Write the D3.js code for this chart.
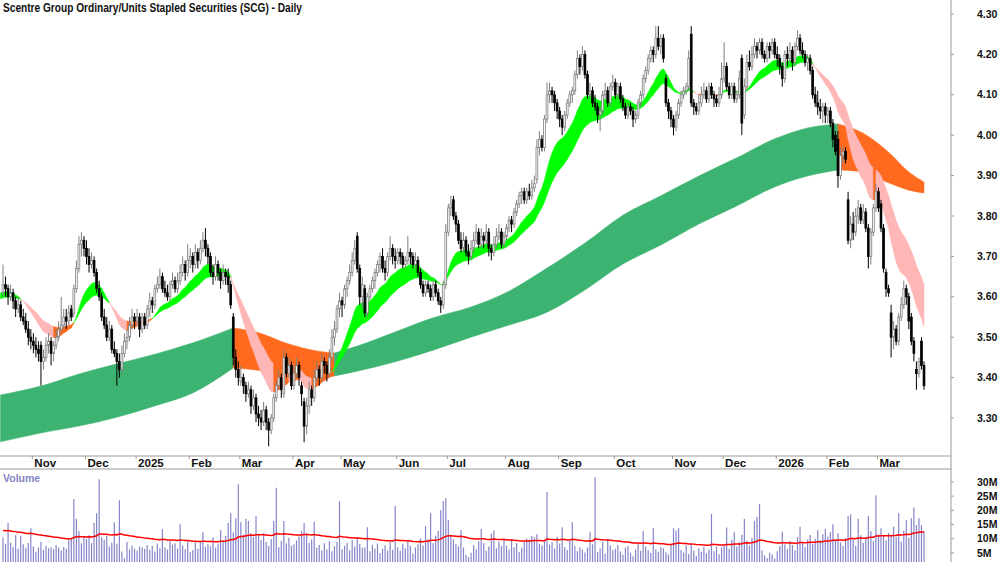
<!DOCTYPE html>
<html>
<head>
<meta charset="utf-8">
<script src="https://cdn.jsdelivr.net/npm/d3@7"></script>
<style>
    body { margin: 0; background: #fff; }
    svg text { font-family: Arial, "Liberation Sans", sans-serif; font-weight: bold; }
</style>
</head>
<body>
<div id="chart"></div>
<script>
// daily prices, 16 Oct 2024 .. 26 Mar 2026 (one row per month)
const opens = [
    3.61,3.63,3.62,3.60,3.61,3.59,3.57,3.58,3.55,3.54,3.52,3.50,
    3.49,3.48,3.47,3.48,3.44,3.45,3.48,3.49,3.46,3.48,3.50,3.52,3.53,3.55,3.54,3.57,3.56,3.62,3.67,3.73,3.74,
    3.72,3.70,3.68,3.69,3.66,3.62,3.60,3.55,3.53,3.50,3.52,3.47,3.46,3.44,3.42,3.46,3.49,3.50,3.53,3.55,
    3.54,3.55,3.52,3.55,3.53,3.57,3.59,3.58,3.62,3.63,3.65,3.62,3.61,3.60,3.63,3.64,3.62,3.64,3.66,3.68,3.66,
    3.69,3.70,3.68,3.71,3.69,3.72,3.74,3.72,3.70,3.66,3.65,3.68,3.66,3.64,3.66,3.65,3.63,3.55,3.45,3.42,
    3.39,3.40,3.38,3.36,3.37,3.33,3.35,3.31,3.30,3.29,3.32,3.29,3.27,3.30,3.35,3.38,3.40,3.36,3.45,3.41,3.43,
    3.38,3.41,3.43,3.38,3.34,3.28,3.33,3.37,3.35,3.40,3.42,3.40,3.44,3.43,3.41,3.45,3.50,3.52,3.57,
    3.59,3.58,3.62,3.64,3.66,3.69,3.75,3.67,3.60,3.62,3.56,3.60,3.62,3.64,3.66,3.68,3.70,3.67,3.66,3.70,3.72,3.70,
    3.69,3.71,3.70,3.68,3.69,3.71,3.70,3.68,3.69,3.66,3.63,3.61,3.63,3.62,3.60,3.63,3.61,3.59,3.58,3.63,
    3.76,3.82,3.84,3.80,3.78,3.74,3.72,3.74,3.71,3.70,3.72,3.74,3.76,3.73,3.75,3.74,3.76,3.72,3.71,3.73,3.75,3.76,3.73,
    3.75,3.77,3.79,3.78,3.81,3.83,3.85,3.86,3.84,3.86,3.85,3.87,3.89,3.97,3.99,3.97,4.04,4.10,4.11,4.10,4.08,
    4.06,4.04,4.02,4.05,4.08,4.10,4.11,4.15,4.19,4.17,4.20,4.15,4.10,4.11,4.08,4.07,4.05,4.06,4.10,4.11,4.08,4.12,
    4.13,4.10,4.12,4.09,4.07,4.05,4.07,4.06,4.04,4.05,4.08,4.10,4.14,4.16,4.19,4.21,4.20,4.24,4.22,4.24,4.14,4.08,4.06,
    4.04,4.02,4.05,4.08,4.10,4.11,4.12,4.25,4.08,4.07,4.06,4.08,4.10,4.11,4.09,4.12,4.10,4.09,4.08,4.10,
    4.14,4.17,4.12,4.10,4.12,4.09,4.10,4.19,4.05,4.12,4.18,4.17,4.20,4.22,4.21,4.23,4.20,4.19,4.22,4.21,4.23,
    4.20,4.19,4.17,4.14,4.20,4.19,4.21,4.18,4.22,4.24,4.21,4.20,4.18,4.19,4.16,4.10,4.08,4.07,4.06,4.07,
    4.05,4.06,4.03,4.00,3.99,3.90,3.95,3.96,3.84,3.74,3.78,3.76,3.80,3.82,3.79,3.81,3.77,3.70,3.76,3.82,
    3.86,3.83,3.77,3.66,3.62,3.56,3.50,3.52,3.49,3.55,3.58,3.62,3.60,3.55,3.49,3.42,3.41,3.49,3.43
];
const highs = [
    3.68,3.65,3.63,3.63,3.62,3.60,3.60,3.59,3.57,3.56,3.54,3.52,
    3.51,3.50,3.49,3.49,3.47,3.50,3.51,3.50,3.49,3.52,3.54,3.60,3.57,3.57,3.58,3.58,3.63,3.69,3.75,3.76,3.75,
    3.74,3.72,3.71,3.70,3.67,3.64,3.61,3.57,3.55,3.54,3.53,3.49,3.47,3.46,3.48,3.51,3.52,3.55,3.57,3.56,
    3.57,3.56,3.56,3.56,3.58,3.61,3.60,3.63,3.65,3.67,3.66,3.64,3.63,3.64,3.66,3.65,3.66,3.68,3.70,3.69,3.73,
    3.72,3.71,3.73,3.72,3.74,3.76,3.77,3.73,3.71,3.68,3.70,3.69,3.67,3.68,3.67,3.67,3.64,3.56,3.47,3.44,
    3.43,3.41,3.39,3.39,3.38,3.37,3.36,3.33,3.32,3.34,3.33,3.30,3.31,3.36,3.39,3.42,3.41,3.47,3.46,3.45,3.44,
    3.43,3.45,3.44,3.39,3.35,3.35,3.39,3.38,3.42,3.44,3.43,3.46,3.45,3.44,3.47,3.52,3.54,3.58,3.61,
    3.60,3.63,3.65,3.68,3.71,3.74,3.76,3.68,3.65,3.63,3.61,3.63,3.65,3.67,3.69,3.71,3.72,3.69,3.71,3.75,3.73,3.72,
    3.72,3.72,3.71,3.70,3.75,3.72,3.71,3.71,3.70,3.67,3.64,3.64,3.64,3.63,3.64,3.64,3.62,3.60,3.64,3.78,
    3.83,3.85,3.85,3.81,3.79,3.76,3.76,3.75,3.73,3.74,3.76,3.78,3.77,3.77,3.76,3.78,3.77,3.73,3.75,3.77,3.78,3.77,3.76,
    3.78,3.80,3.80,3.82,3.84,3.86,3.87,3.87,3.87,3.88,3.89,3.90,3.99,4.01,4.00,4.05,4.13,4.13,4.12,4.11,4.09,
    4.07,4.05,4.06,4.09,4.11,4.12,4.16,4.21,4.20,4.22,4.21,4.16,4.13,4.12,4.10,4.08,4.07,4.11,4.13,4.12,4.13,4.15,
    4.14,4.13,4.13,4.10,4.08,4.08,4.08,4.07,4.06,4.09,4.11,4.15,4.17,4.20,4.22,4.22,4.27,4.27,4.25,4.25,4.15,4.09,4.07,
    4.05,4.06,4.09,4.11,4.12,4.13,4.21,4.27,4.09,4.08,4.10,4.12,4.13,4.12,4.13,4.13,4.11,4.10,4.12,4.18,
    4.23,4.18,4.13,4.13,4.13,4.11,4.16,4.20,4.14,4.20,4.21,4.22,4.24,4.23,4.24,4.24,4.21,4.23,4.23,4.24,4.24,
    4.22,4.20,4.18,4.21,4.22,4.23,4.22,4.23,4.26,4.25,4.23,4.21,4.20,4.20,4.17,4.12,4.11,4.09,4.08,4.08,
    4.07,4.07,4.04,4.01,4.01,3.97,3.97,3.97,3.86,3.80,3.81,3.82,3.84,3.83,3.83,3.82,3.78,3.77,3.83,3.88,
    3.87,3.84,3.78,3.67,3.63,3.58,3.54,3.53,3.56,3.60,3.64,3.63,3.61,3.56,3.50,3.44,3.45,3.50,3.44
];
const lows = [
    3.60,3.60,3.58,3.59,3.57,3.55,3.56,3.54,3.53,3.51,3.48,3.47,
    3.46,3.45,3.44,3.38,3.42,3.44,3.46,3.43,3.44,3.47,3.49,3.51,3.52,3.52,3.53,3.54,3.55,3.61,3.66,3.70,3.70,
    3.68,3.66,3.67,3.65,3.61,3.59,3.54,3.52,3.49,3.49,3.46,3.45,3.38,3.40,3.41,3.45,3.47,3.49,3.52,3.52,
    3.53,3.50,3.51,3.52,3.52,3.55,3.56,3.57,3.61,3.62,3.61,3.60,3.59,3.59,3.62,3.61,3.61,3.63,3.65,3.64,3.65,
    3.67,3.66,3.67,3.67,3.68,3.71,3.70,3.68,3.65,3.63,3.64,3.64,3.62,3.63,3.63,3.61,3.57,3.43,3.40,3.38,
    3.38,3.36,3.34,3.35,3.31,3.32,3.29,3.28,3.27,3.28,3.27,3.23,3.26,3.29,3.34,3.37,3.35,3.35,3.40,3.40,3.37,
    3.37,3.40,3.38,3.33,3.24,3.26,3.31,3.33,3.34,3.39,3.38,3.39,3.41,3.39,3.40,3.44,3.48,3.51,3.55,
    3.55,3.57,3.60,3.63,3.65,3.68,3.66,3.58,3.57,3.55,3.55,3.59,3.61,3.62,3.65,3.66,3.66,3.64,3.65,3.69,3.68,3.67,
    3.68,3.68,3.67,3.67,3.68,3.68,3.67,3.67,3.65,3.62,3.60,3.60,3.61,3.59,3.59,3.60,3.58,3.56,3.57,3.62,
    3.75,3.80,3.79,3.76,3.73,3.71,3.71,3.70,3.68,3.69,3.71,3.73,3.72,3.72,3.72,3.73,3.70,3.69,3.70,3.72,3.74,3.72,3.72,
    3.74,3.76,3.76,3.77,3.80,3.82,3.83,3.83,3.83,3.84,3.84,3.86,3.88,3.95,3.96,3.96,4.03,4.08,4.08,4.06,4.04,
    4.02,4.00,4.01,4.04,4.07,4.08,4.10,4.14,4.15,4.16,4.14,4.09,4.09,4.07,4.06,4.03,4.01,4.05,4.09,4.07,4.07,4.11,
    4.09,4.09,4.08,4.06,4.04,4.04,4.05,4.02,4.03,4.04,4.07,4.09,4.13,4.15,4.18,4.18,4.19,4.21,4.20,4.18,4.07,4.04,4.02,
    4.00,4.01,4.04,4.07,4.09,4.10,4.11,4.07,4.05,4.05,4.05,4.07,4.09,4.08,4.08,4.09,4.07,4.07,4.07,4.09,
    4.13,4.11,4.09,4.09,4.08,4.08,4.09,4.00,4.04,4.11,4.16,4.16,4.19,4.19,4.20,4.19,4.18,4.18,4.19,4.20,4.19,
    4.17,4.15,4.12,4.13,4.17,4.18,4.16,4.17,4.21,4.20,4.19,4.17,4.16,4.15,4.09,4.07,4.05,4.04,4.03,4.03,
    4.03,4.02,3.97,3.95,3.87,3.89,3.93,3.93,3.73,3.72,3.74,3.75,3.78,3.78,3.78,3.76,3.67,3.68,3.75,3.81,
    3.81,3.76,3.66,3.60,3.60,3.45,3.47,3.48,3.48,3.54,3.57,3.58,3.52,3.48,3.44,3.37,3.40,3.42,3.37
];
const closes = [
    3.63,3.62,3.60,3.61,3.59,3.57,3.58,3.55,3.54,3.52,3.50,3.49,
    3.48,3.47,3.46,3.44,3.45,3.48,3.49,3.46,3.48,3.50,3.52,3.53,3.55,3.54,3.56,3.55,3.62,3.67,3.73,3.74,3.72,
    3.70,3.68,3.69,3.66,3.62,3.60,3.55,3.53,3.50,3.52,3.47,3.46,3.44,3.42,3.46,3.49,3.50,3.53,3.55,3.54,
    3.55,3.52,3.55,3.53,3.57,3.59,3.58,3.62,3.63,3.65,3.62,3.61,3.60,3.63,3.64,3.62,3.64,3.66,3.68,3.66,3.69,
    3.70,3.68,3.71,3.69,3.72,3.74,3.72,3.70,3.66,3.65,3.68,3.66,3.64,3.66,3.65,3.63,3.58,3.45,3.42,3.40,
    3.40,3.38,3.36,3.37,3.33,3.35,3.31,3.30,3.29,3.32,3.29,3.27,3.30,3.35,3.38,3.40,3.37,3.45,3.41,3.43,3.38,
    3.41,3.43,3.40,3.36,3.28,3.33,3.37,3.35,3.40,3.42,3.40,3.44,3.43,3.41,3.45,3.50,3.52,3.57,3.59,
    3.58,3.62,3.64,3.66,3.69,3.72,3.67,3.60,3.63,3.56,3.60,3.62,3.64,3.66,3.68,3.70,3.67,3.66,3.70,3.72,3.70,3.69,
    3.71,3.70,3.68,3.69,3.71,3.70,3.68,3.69,3.66,3.63,3.61,3.63,3.62,3.60,3.63,3.61,3.59,3.58,3.63,3.76,
    3.82,3.83,3.80,3.78,3.74,3.72,3.74,3.71,3.70,3.72,3.74,3.76,3.73,3.75,3.74,3.76,3.72,3.71,3.73,3.75,3.76,3.73,3.75,
    3.77,3.79,3.78,3.81,3.83,3.85,3.86,3.84,3.86,3.85,3.87,3.88,3.97,3.99,3.97,4.04,4.10,4.11,4.10,4.08,4.06,
    4.04,4.02,4.05,4.08,4.10,4.11,4.15,4.19,4.17,4.20,4.15,4.10,4.11,4.08,4.07,4.05,4.06,4.10,4.11,4.08,4.12,4.13,
    4.10,4.12,4.09,4.07,4.05,4.07,4.06,4.04,4.05,4.08,4.10,4.14,4.16,4.19,4.21,4.20,4.24,4.22,4.24,4.19,4.08,4.06,4.04,
    4.02,4.05,4.08,4.10,4.11,4.12,4.19,4.08,4.07,4.06,4.08,4.10,4.11,4.09,4.12,4.10,4.09,4.08,4.10,4.14,
    4.17,4.12,4.10,4.12,4.09,4.10,4.14,4.03,4.12,4.18,4.17,4.20,4.22,4.21,4.23,4.20,4.19,4.22,4.21,4.23,4.20,
    4.19,4.17,4.14,4.20,4.19,4.21,4.18,4.22,4.24,4.21,4.20,4.18,4.19,4.16,4.10,4.08,4.07,4.06,4.07,4.05,
    4.06,4.03,3.99,3.96,3.90,3.95,3.96,3.94,3.74,3.78,3.76,3.80,3.82,3.79,3.81,3.77,3.70,3.76,3.82,3.86,
    3.82,3.77,3.67,3.62,3.61,3.50,3.52,3.49,3.55,3.58,3.62,3.60,3.54,3.49,3.46,3.41,3.44,3.43,3.38
];
// volume in millions
const volumes = [
    10.5,8.2,15.5,8.6,7.1,11.2,6.4,11.0,8.0,6.8,8.5,13.7,
    7.2,5.4,6.8,8.9,6.1,7.5,6.6,7.0,6.3,7.8,6.9,5.8,7.1,6.4,9.5,10.2,24.0,17.0,12.7,8.4,10.6,
    9.8,11.2,8.4,15.6,19.0,31.0,10.5,9.6,11.0,7.2,8.6,15.8,8.2,23.6,5.5,3.0,8.8,6.1,7.6,6.5,
    5.8,7.2,6.9,6.4,7.8,6.0,7.4,5.5,8.3,6.7,13.4,7.0,6.2,9.1,7.9,8.4,6.5,15.1,7.7,6.3,9.0,
    5.2,6.0,8.7,6.4,9.0,12.3,7.1,8.0,7.3,10.5,6.8,8.2,13.0,9.4,11.0,15.5,19.0,12.2,17.2,29.2,
    15.8,11.4,17.0,16.3,12.0,10.6,18.0,11.8,9.5,12.0,8.8,7.5,9.9,16.2,28.0,7.0,9.2,16.2,8.4,10.3,7.6,
    8.0,9.4,10.8,12.6,15.5,11.9,8.5,9.7,16.0,6.9,7.8,5.9,8.4,6.2,9.1,5.6,7.4,8.8,23.2,
    6.3,7.5,8.6,5.9,9.4,7.2,10.4,8.1,6.8,7.0,14.0,5.6,7.9,6.5,8.3,4.9,6.4,7.7,5.8,8.8,6.1,21.5,
    7.0,5.7,8.2,6.6,9.3,7.4,4.8,6.9,8.0,10.1,7.6,14.4,9.8,19.0,8.4,11.0,12.8,20.0,23.3,24.3,
    16.5,11.2,9.8,8.1,7.3,13.0,6.9,4.2,3.5,5.0,7.8,6.3,9.1,13.4,8.5,5.7,7.2,11.8,13.0,6.6,8.9,7.4,10.1,
    7.5,6.2,9.9,7.0,8.4,5.3,6.8,8.9,10.1,9.6,11.0,10.4,11.6,8.2,7.6,9.0,26.5,7.9,8.8,6.5,10.7,
    8.3,14.0,7.1,6.0,9.2,15.8,7.4,5.6,7.0,6.2,5.1,6.9,12.4,8.0,31.7,5.2,6.5,8.8,4.6,9.9,7.7,5.9,
    6.4,7.8,5.5,4.3,6.9,7.4,5.0,3.8,6.1,8.5,5.7,12.7,7.2,6.0,4.9,13.7,6.3,5.4,7.0,6.6,5.2,4.4,8.1,
    13.7,12.9,13.7,6.0,5.1,7.7,4.6,8.3,5.8,4.0,6.6,5.4,7.1,4.8,6.2,18.7,5.6,7.3,4.5,6.9,
    7.9,13.9,6.4,9.6,12.4,7.2,8.8,11.4,17.0,9.3,7.6,10.2,16.3,17.7,22.2,5.8,4.1,3.2,5.0,4.4,2.9,
    5.6,7.4,12.4,8.0,6.3,9.2,7.8,5.9,10.6,14.2,8.5,7.1,9.7,11.3,8.2,10.0,13.0,9.4,11.6,13.4,
    10.8,12.3,15.1,9.6,11.9,8.7,7.4,10.2,18.0,18.6,9.8,7.5,17.0,11.2,8.6,10.4,18.0,12.7,9.1,25.3,
    11.5,13.7,10.9,9.4,12.0,11.3,14.2,10.6,19.0,9.0,12.8,16.5,10.3,17.2,21.0,14.8,17.2,14.8,12.6
];
// long-term band at these day numbers
const longBandDays   = [-1, 15, 30, 45, 60, 75, 91, 100, 113, 124, 131, 140, 155, 170, 185, 200, 215, 230, 245, 260, 275, 290, 305, 318, 330, 340, 350, 358, 364];
const longBandTop    = [3.357, 3.379, 3.409, 3.434, 3.458, 3.486, 3.523, 3.513, 3.483, 3.466, 3.461, 3.478, 3.513, 3.548, 3.575, 3.614, 3.671, 3.733, 3.802, 3.850, 3.899, 3.944, 3.991, 4.018, 4.028, 4.005, 3.958, 3.909, 3.884];
const longBandBottom = [3.241, 3.263, 3.280, 3.302, 3.330, 3.362, 3.424, 3.419, 3.404, 3.397, 3.404, 3.416, 3.439, 3.468, 3.500, 3.530, 3.562, 3.617, 3.681, 3.728, 3.780, 3.825, 3.872, 3.899, 3.914, 3.909, 3.882, 3.864, 3.857];

const priceTicks = [3.30, 3.40, 3.50, 3.60, 3.70, 3.80, 3.90, 4.00, 4.10, 4.20, 4.30];
const volumeTicks = [5, 10, 15, 20, 25, 30];
const holidays = ["2024-12-25", "2024-12-26", "2025-01-01", "2025-01-27", "2025-04-18", "2025-04-21",
    "2025-04-25", "2025-06-09", "2025-12-25", "2025-12-26", "2026-01-01", "2026-01-26"];

// short-term band: two averages of the close, and where they stood just before the first day
const shortFast = 16, shortSlow = 30;
const seeds = { shortFast: 3.61, shortSlow: 3.595, volume: 13 };

const width = 1000, height = 562;
const green = "#00ff00", pink = "#ffb6b6", orange = "#ff6a1f", seaGreen = "#3cb371";

const svg = d3.select("#chart").append("svg")
    .attr("width", width)
    .attr("height", height);

// trading days
const holidaySet = new Set(holidays);
const dates = [];
let day = new Date(Date.UTC(2024, 9, 16));
while (dates.length < closes.length) {
    const wd = day.getUTCDay();
    if (wd > 0 && wd < 6 && !holidaySet.has(day.toISOString().slice(0, 10))) dates.push(new Date(day));
    day.setUTCDate(day.getUTCDate() + 1);
}

const x = d3.scaleLinear().domain([0, closes.length - 1]).range([3, 924]);
const y = d3.scaleLinear().domain([3.30, 4.30]).range([418, 14]);
const yv = d3.scaleLinear().domain([0, 30]).range([567, 482]);

function ema(values, period, seed) {
    const k = 2 / (period + 1);
    let prev = seed;
    return values.map(v => prev = prev + k * (v - prev));
}

// split points into runs that share one colour (colour of a point = colour of the step ending there)
function colourRuns(pts) {
    const runs = [];
    let run = [pts[0]];
    for (let k = 1; k < pts.length; k++) {
        if (run.length > 1 && pts[k].c !== run[run.length - 1].c) {
            runs.push(run);
            run = [run[run.length - 1]];
        }
        run.push(pts[k]);
    }
    runs.push(run);
    return runs;
}

function drawRuns(runs, curve) {
    const area = d3.area()
        .curve(curve)
        .x(d => x(d.i))
        .y0(d => y(d.a))
        .y1(d => y(d.b));
    svg.append("g").selectAll("path")
        .data(runs)
        .join("path")
        .attr("d", area)
        .attr("fill", r => r[r.length - 1].c)
        .attr("stroke", r => r[r.length - 1].c)
        .attr("stroke-width", 0.5);
}

// long band: orange while its upper edge is falling
const longPts = longBandDays.map((d, k) => ({
    i: d, a: longBandTop[k], b: longBandBottom[k],
    c: k && longBandTop[k] < longBandTop[k - 1] ? orange : seaGreen
}));
longPts[0].c = longPts[1].c;
drawRuns(colourRuns(longPts), d3.curveMonotoneX);

// short band
const emaFast = ema(closes, shortFast, seeds.shortFast);
const emaSlow = ema(closes, shortSlow, seeds.shortSlow);
const shortPts = [{ i: -1, a: seeds.shortFast, b: seeds.shortSlow }];
emaFast.forEach((f, i) => {
    const pf = i ? emaFast[i - 1] : seeds.shortFast, ps = i ? emaSlow[i - 1] : seeds.shortSlow;
    const s = emaSlow[i];
    shortPts.push({ i: i, a: f, b: s, c: f > s ? green : (f < pf && s < ps ? pink : orange) });
});
shortPts[0].c = shortPts[1].c;
drawRuns(colourRuns(shortPts), d3.curveLinear);

// candles
const candles = closes.map((c, i) => ({ i: i, o: opens[i], h: highs[i], l: lows[i], c: c }));
const cg = svg.append("g");
cg.selectAll("line")
    .data(candles)
    .join("line")
    .attr("x1", d => x(d.i)).attr("x2", d => x(d.i))
    .attr("y1", d => y(d.h)).attr("y2", d => y(d.l))
    .attr("stroke", d => d.c < d.o ? "#000" : "#808080")
    .attr("stroke-width", 1);
cg.selectAll("rect")
    .data(candles)
    .join("rect")
    .attr("x", d => x(d.i) - 0.9)
    .attr("width", 1.8)
    .attr("y", d => y(Math.max(d.o, d.c)))
    .attr("height", d => Math.max(0.8, Math.abs(y(d.o) - y(d.c))))
    .attr("fill", d => d.c < d.o ? "#000" : "#fff")
    .attr("stroke", d => d.c < d.o ? "#000" : "#808080")
    .attr("stroke-width", 0.8);

// volume
svg.append("g").selectAll("line")
    .data(volumes)
    .join("line")
    .attr("x1", (d, i) => x(i)).attr("x2", (d, i) => x(i))
    .attr("y1", yv(0)).attr("y2", d => yv(d))
    .attr("stroke", "#8585cc")
    .attr("stroke-width", 1.2);

const volAvg = ema(volumes, 60, seeds.volume);
svg.append("path")
    .datum(volAvg)
    .attr("d", d3.line().x((d, i) => x(i)).y(d => yv(d)))
    .attr("fill", "none")
    .attr("stroke", "#ff0000")
    .attr("stroke-width", 1.5);

// frame
svg.append("rect").attr("x", 0).attr("y", 456).attr("width", 951).attr("height", 13).attr("fill", "#fff");
svg.append("line").attr("x1", 0).attr("x2", 951).attr("y1", 456).attr("y2", 456).attr("stroke", "#999");
svg.append("line").attr("x1", 0).attr("x2", 951).attr("y1", 469).attr("y2", 469).attr("stroke", "#999");
svg.append("line").attr("x1", 951).attr("x2", 951).attr("y1", 0).attr("y2", height).attr("stroke", "#999");

// month axis
const monthStarts = dates.map((d, i) => i).filter(i => i > 0 && dates[i].getUTCMonth() !== dates[i - 1].getUTCMonth());
const mg = svg.append("g").selectAll("g").data(monthStarts).join("g")
    .attr("transform", i => `translate(${x(i) - 1},0)`);
mg.append("line").attr("y1", 456).attr("y2", 459).attr("stroke", "#999");
mg.append("text")
    .attr("x", 2).attr("y", 467)
    .attr("font-size", 11.5)
    .attr("fill", "#111")
    .text(i => dates[i].getUTCMonth() === 0 ? d3.utcFormat("%Y")(dates[i]) : d3.utcFormat("%b")(dates[i]));

// right axes
const pg = svg.append("g").selectAll("g").data(priceTicks).join("g")
    .attr("transform", d => `translate(0,${y(d)})`);
pg.append("line").attr("x1", 951).attr("x2", 954).attr("stroke", "#999");
pg.append("text").attr("x", 977).attr("dy", "0.35em").attr("font-size", 10.5).attr("fill", "#111")
    .text(d => d3.format(".2f")(d));

const vg = svg.append("g").selectAll("g").data(volumeTicks).join("g")
    .attr("transform", d => `translate(0,${yv(d)})`);
vg.append("line").attr("x1", 951).attr("x2", 954).attr("stroke", "#999");
vg.append("text").attr("x", 977).attr("dy", "0.35em").attr("font-size", 10.5).attr("fill", "#111")
    .text(d => d + "M");

// labels
svg.append("text")
    .attr("x", 3).attr("y", 12)
    .attr("font-size", 12)
    .attr("textLength", 299)
    .attr("lengthAdjust", "spacingAndGlyphs")
    .attr("fill", "#111")
    .text("Scentre Group Ordinary/Units Stapled Securities (SCG) - Daily");
svg.append("text")
    .attr("x", 3).attr("y", 482)
    .attr("font-size", 10.5)
    .attr("fill", "#8484c4")
    .text("Volume");
</script>
</body>
</html>
